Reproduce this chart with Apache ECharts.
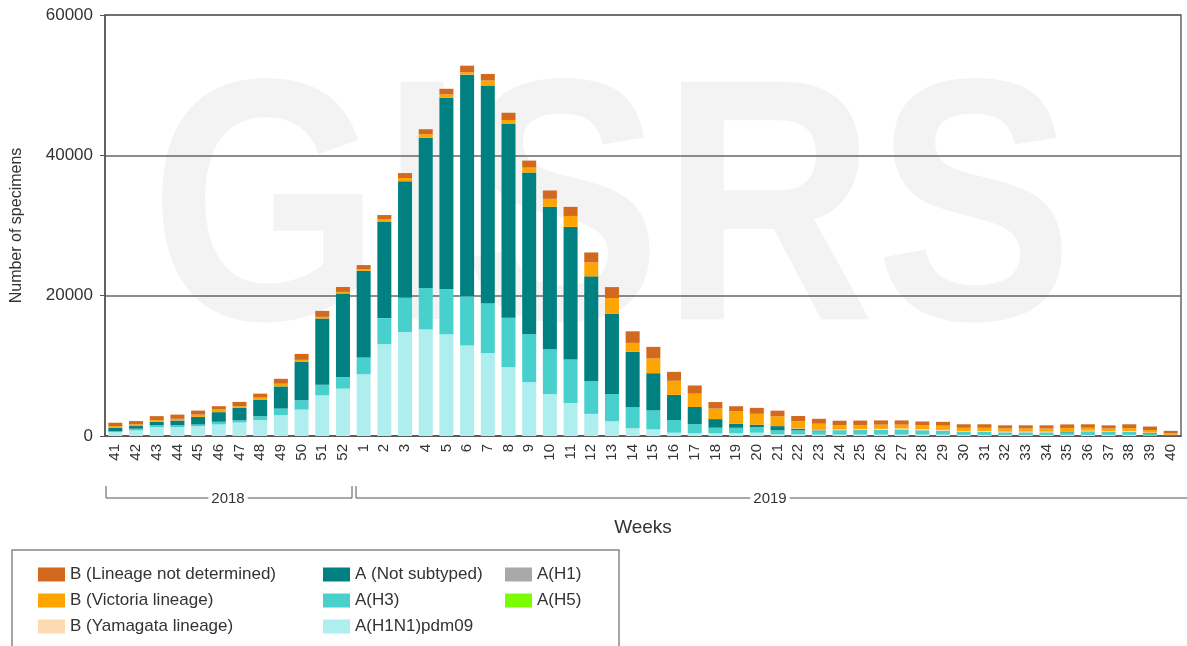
<!DOCTYPE html>
<html>
<head>
<meta charset="utf-8">
<script src="https://cdn.jsdelivr.net/npm/echarts@6/dist/echarts.min.js"></script>
<style>
  html, body { margin: 0; padding: 0; background: #fff; }
  #main { width: 1187px; height: 646px; }
</style>
</head>
<body>
<div id="main"></div>
<script>
// weeks 41-52 of 2018, then 1-40 of 2019
const weeks = ['41','42','43','44','45','46','47','48','49','50','51','52',
  '1','2','3','4','5','6','7','8','9','10','11','12','13','14','15','16','17','18','19','20',
  '21','22','23','24','25','26','27','28','29','30','31','32','33','34','35','36','37','38','39','40']

const yTicks = [0, 20000, 40000, 60000]

// stacked from bottom to top
const h1n1pdm = [570, 800, 1270, 1270, 1400, 1650, 1930, 2260, 2970, 3770, 5800, 6750,
  8800, 13100, 14800, 15200, 14500, 12900, 11800, 9800, 7670, 5970, 4700, 3150, 2100, 1100, 950, 470, 380, 380,
  420, 470, 240, 240, 190, 200, 200, 200, 200, 200, 200, 150, 150, 150, 150, 150, 150, 150, 150, 150, 100, 30]
const h3 = [140, 240, 280, 280, 240, 380, 330, 570, 940, 1320, 1510, 1650,
  2400, 3700, 4900, 5900, 6400, 7000, 7070, 7070, 6830, 6400, 6200, 4700, 3900, 3000, 2700, 1800, 1300, 800,
  750, 800, 570, 570, 470, 600, 600, 650, 700, 600, 550, 400, 450, 350, 350, 350, 350, 500, 400, 450, 250, 50]
const notSubtyped = [470, 380, 470, 660, 1080, 1370, 1750, 2360, 3160, 5520, 9430, 11900,
  12350, 13700, 16600, 21400, 27300, 31600, 31100, 27600, 23050, 20300, 18900, 14900, 11400, 7900, 5300, 3600, 2450, 1230,
  570, 330, 600, 240, 140, 30, 50, 20, 20, 20, 20, 20, 20, 20, 20, 20, 150, 20, 20, 20, 100, 100]
const h1 = weeks.map(() => 0)
const h5 = weeks.map(() => 0)
const yamagata = [0, 0, 0, 0, 0, 0, 0, 0, 0, 0, 0, 0,
  0, 0, 0, 0, 0, 0, 0, 0, 0, 0, 0, 0, 0, 0, 0, 0, 0, 0,
  0, 0, 0, 50, 80, 100, 150, 150, 150, 150, 100, 100, 100, 100, 100, 100, 50, 100, 100, 100, 50, 0]
const victoria = [240, 240, 240, 240, 330, 380, 240, 280, 380, 240, 240, 240,
  240, 420, 470, 520, 480, 330, 700, 570, 700, 1130, 1560, 2000, 2260, 1270, 2100, 2000, 1900, 1500,
  1800, 1560, 1400, 1000, 870, 600, 550, 600, 550, 550, 600, 500, 450, 450, 450, 450, 450, 400, 400, 400, 350, 200]
const notDetermined = [470, 470, 570, 600, 570, 470, 610, 570, 700, 850, 850, 700,
  570, 570, 700, 700, 800, 950, 930, 1030, 1000, 1190, 1300, 1410, 1560, 1650, 1650, 1270, 1170, 930,
  700, 850, 800, 750, 700, 650, 650, 600, 600, 550, 550, 500, 500, 450, 450, 450, 500, 500, 450, 550, 500, 350]

const groups = [
  { name: 'A(H1N1)pdm09', color: '#afeeee', data: h1n1pdm },
  { name: 'A(H3)', color: '#48d1cc', data: h3 },
  { name: 'A (Not subtyped)', color: '#008080', data: notSubtyped },
  { name: 'A(H1)', color: '#a9a9a9', data: h1 },
  { name: 'A(H5)', color: '#7cfc00', data: h5 },
  { name: 'B (Yamagata lineage)', color: '#ffdab0', data: yamagata },
  { name: 'B (Victoria lineage)', color: '#ffa500', data: victoria },
  { name: 'B (Lineage not determined)', color: '#d2691e', data: notDetermined }
]

const legendCommon = {
  orient: 'vertical',
  top: 561,
  icon: 'rect',
  itemWidth: 27,
  itemHeight: 14,
  itemGap: 9,
  selectedMode: false,
  textStyle: { fontSize: 17, color: '#333', fontFamily: 'Liberation Sans' }
}

const myChart = echarts.init(document.getElementById('main'))

const option = {
  animation: false,
  textStyle: { fontFamily: 'Liberation Sans' },
  grid: {
    left: 105,
    right: 6,
    top: 15,
    bottom: 210,
    show: true,
    borderColor: '#666',
    borderWidth: 1.5
  },
  legend: [
    { ...legendCommon, left: 33, data: ['B (Lineage not determined)', 'B (Victoria lineage)', 'B (Yamagata lineage)'] },
    { ...legendCommon, left: 318, data: ['A (Not subtyped)', 'A(H3)', 'A(H1N1)pdm09'] },
    { ...legendCommon, left: 500, data: ['A(H1)', 'A(H5)'] }
  ],
  xAxis: {
    type: 'category',
    data: weeks,
    name: 'Weeks',
    nameLocation: 'middle',
    nameGap: 82,
    nameTextStyle: { fontSize: 19, color: '#333' },
    axisLine: { lineStyle: { color: '#555', width: 1.5 } },
    axisTick: { alignWithLabel: true, length: 6, lineStyle: { color: '#555' } },
    axisLabel: { rotate: 90, interval: 0, fontSize: 15, color: '#333', margin: 8 }
  },
  yAxis: {
    type: 'value',
    min: yTicks[0],
    max: yTicks[yTicks.length - 1],
    interval: yTicks[1] - yTicks[0],
    name: 'Number of specimens',
    nameLocation: 'middle',
    nameGap: 80,
    nameRotate: 90,
    nameTextStyle: { fontSize: 16, color: '#333' },
    axisLine: { show: true, lineStyle: { color: '#555', width: 1.5 } },
    axisTick: { show: true, length: 5, lineStyle: { color: '#555' } },
    axisLabel: { fontSize: 17, color: '#333', margin: 12, formatter: v => String(v) },
    splitLine: { lineStyle: { color: '#666', width: 1.5 } }
  },
  graphic: [
    // watermark
    {
      type: 'text',
      x: 150,
      y: 224,
      scaleX: 0.86,
      z: -10,
      silent: true,
      style: {
        text: 'GISRS',
        font: 'bold 345px "Liberation Sans"',
        fill: '#f3f3f3',
        textVerticalAlign: 'middle'
      }
    },
    // year brackets
    { type: 'line', shape: { x1: 106, y1: 486, x2: 106, y2: 498 }, style: { stroke: '#555', lineWidth: 1 } },
    { type: 'line', shape: { x1: 106, y1: 498, x2: 352, y2: 498 }, style: { stroke: '#555', lineWidth: 1 } },
    { type: 'line', shape: { x1: 352, y1: 486, x2: 352, y2: 498 }, style: { stroke: '#555', lineWidth: 1 } },
    { type: 'line', shape: { x1: 356, y1: 486, x2: 356, y2: 498 }, style: { stroke: '#555', lineWidth: 1 } },
    { type: 'line', shape: { x1: 356, y1: 498, x2: 1187, y2: 498 }, style: { stroke: '#555', lineWidth: 1 } },
    {
      type: 'text', x: 228, y: 499, z: 10,
      style: { text: '2018', font: '15px "Liberation Sans"', fill: '#333', textAlign: 'center', textVerticalAlign: 'middle', backgroundColor: '#fff', padding: [0, 3] }
    },
    {
      type: 'text', x: 770, y: 499, z: 10,
      style: { text: '2019', font: '15px "Liberation Sans"', fill: '#333', textAlign: 'center', textVerticalAlign: 'middle', backgroundColor: '#fff', padding: [0, 3] }
    },
    // legend frame
    {
      type: 'rect',
      shape: { x: 12, y: 550, width: 607, height: 100 },
      style: { fill: 'none', stroke: '#888', lineWidth: 1.5 }
    }
  ],
  series: groups.map(g => ({
    name: g.name,
    type: 'bar',
    stack: 'total',
    barWidth: 14,
    itemStyle: { color: g.color },
    data: g.data
  }))
}

myChart.setOption(option)
</script>
</body>
</html>
